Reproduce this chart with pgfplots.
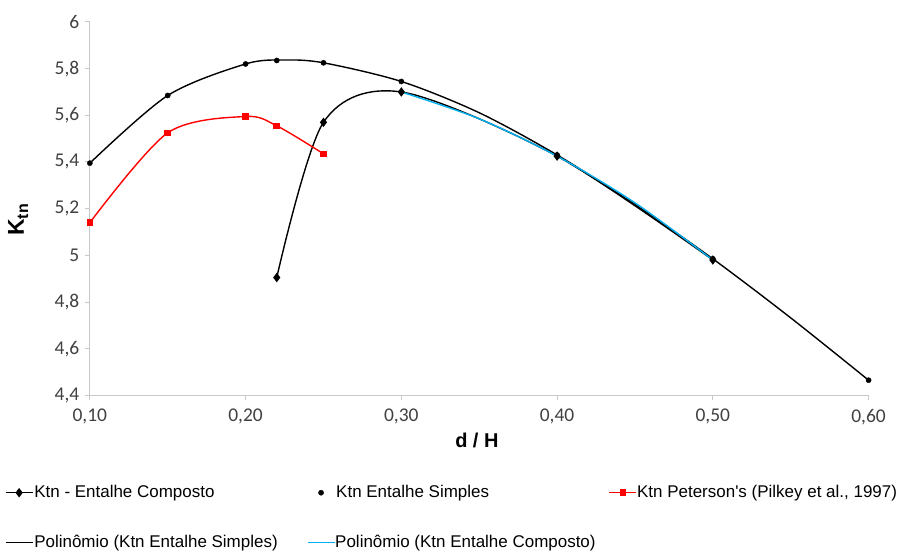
\documentclass[border=0pt]{standalone}
\usepackage{fontspec}
\setmainfont{Carlito}
\newfontfamily\legfont{Liberation Sans}
\usepackage{pgfplots}
\pgfplotsset{compat=1.18}
\definecolor{axgray}{RGB}{200,200,200}
\definecolor{tickgray}{RGB}{64,64,64}
\definecolor{xlblue}{RGB}{0,176,240}
\newcommand{\lt}[1]{\hspace{1pt}\makebox[273pt][l]{#1}}

\begin{document}
\begin{tikzpicture}
\begin{axis}[
  name=ax,
  scale only axis, width=780pt, height=374pt,
  xmin=0.1, xmax=0.6, ymin=4.4, ymax=6,
  xtick={0.1,0.2,0.3,0.4,0.5,0.6},
  ytick={4.4,4.6,4.8,5,5.2,5.4,5.6,5.8,6},
  axis lines*=left,
  axis line style={axgray, line width=1.2pt},
  tick style={axgray, line width=1pt},
  tick align=outside, major tick length=5pt,
  tick label style={font=\fontsize{19.5}{22}\selectfont, text=tickgray},
  x tick label style={/pgf/number format/use comma, /pgf/number format/fixed,
    /pgf/number format/fixed zerofill, /pgf/number format/precision=2, yshift=-5pt},
  y tick label style={/pgf/number format/use comma, /pgf/number format/fixed,
    /pgf/number format/precision=1, xshift=-2pt},
  /pgf/number format/assume math mode=true,
  xlabel={d / H},
  xlabel style={at={(axis description cs:0.497,-0.12)}, anchor=center,
    font=\legfont\bfseries\fontsize{20}{24}\selectfont},
  ylabel={K\raisebox{-0.35ex}{\fontsize{16}{16}\selectfont tn}},
  ylabel style={at={(axis description cs:-0.092,0.47)}, anchor=center, rotate=0,
    font=\legfont\bfseries\fontsize{23}{26}\selectfont},
  clip=false,
  legend columns=3,
  legend image code/.code={\draw[mark repeat=2,mark phase=2,#1] plot coordinates {(0pt,0pt) (13.5pt,0pt) (27pt,0pt)};},
  legend style={at={(axis description cs:-0.109,-0.238)}, anchor=north west,
    draw=none, fill=none, inner sep=0pt, outer sep=0pt,
    column sep=0pt, row sep=33pt,
    nodes={inner sep=0pt, text height=13pt, text depth=4pt},
    font=\legfont\fontsize{17}{20}\selectfont},
  legend cell align=left,
]
% Ktn - Entalhe Composto
\addplot[black, line width=1.4pt, smooth, mark=diamond*, mark size=3.6pt] coordinates {
  (0.22,4.905) (0.25,5.57) (0.30,5.70) (0.40,5.425) (0.50,4.98)
};
\addlegendentry{\lt{Ktn - Entalhe Composto}}
% Ktn Entalhe Simples
\addplot[black, only marks, mark=*, mark size=2.6pt] coordinates {
  (0.10,5.395) (0.15,5.685) (0.20,5.82) (0.22,5.835) (0.25,5.825)
  (0.30,5.745) (0.40,5.43) (0.50,4.985) (0.60,4.465)
};
\addlegendentry{\lt{Ktn Entalhe Simples}}
% Peterson
\addplot[red, line width=1.4pt, smooth, mark=square*, mark size=2.6pt] coordinates {
  (0.10,5.14) (0.15,5.525) (0.20,5.595) (0.22,5.555) (0.25,5.435)
};
\addlegendentry{Ktn Peterson's (Pilkey et al., 1997)}
% trend, simples
\addplot[black, line width=1.4pt, smooth] coordinates {
  (0.10,5.395) (0.15,5.685) (0.20,5.82) (0.225,5.837) (0.25,5.825)
  (0.30,5.745) (0.35,5.611) (0.40,5.43) (0.45,5.218) (0.50,4.985)
  (0.55,4.732) (0.60,4.465)
};
\addlegendentry{\lt{Polinômio (Ktn Entalhe Simples)}}
% trend, composto
\addplot[xlblue, line width=1.4pt, smooth] coordinates {
  (0.30,5.70) (0.35,5.585) (0.40,5.425) (0.45,5.225) (0.50,4.98)
};
\addlegendentry{Polinômio (Ktn Entalhe Composto)}
\end{axis}
\path (ax.south west) ++(-90pt,396pt) rectangle ++(897pt,-550pt);
\end{tikzpicture}
\end{document}
